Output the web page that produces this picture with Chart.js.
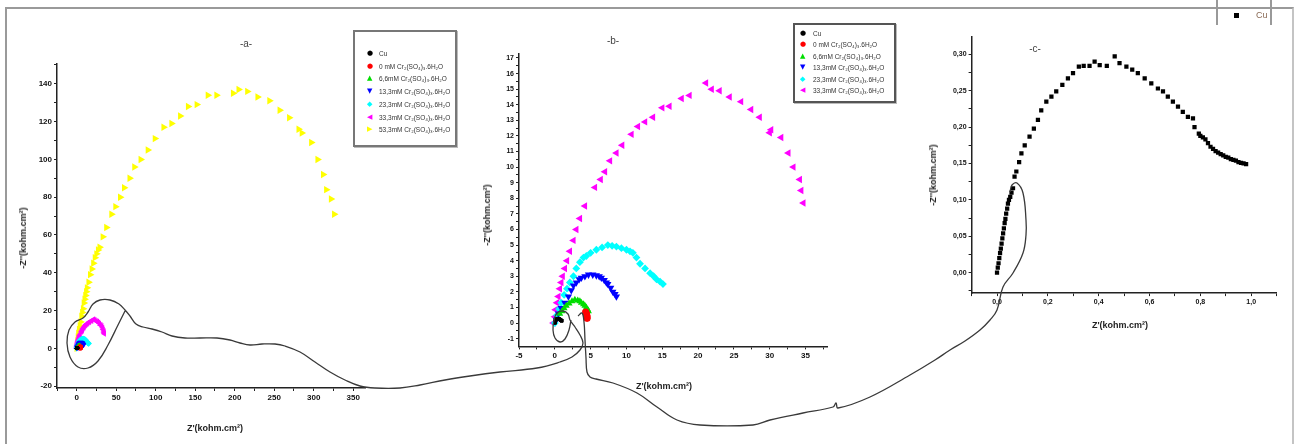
<!DOCTYPE html>
<html>
<head>
<meta charset="utf-8">
<script src="https://cdn.jsdelivr.net/npm/chart.js@4.4.1/dist/chart.umd.min.js"></script>
<style>
  body { margin: 0; width: 1298px; height: 444px; background: #fff; position: relative; overflow: hidden;
         font-family: "Liberation Sans", Arial, sans-serif; }
  canvas { position: absolute; }
  #frame { position: absolute; left: 5px; top: 7px; width: 1285px; height: 450px;
           border-top: 2px solid #9a9a9a; border-left: 2px solid #9a9a9a; border-right: 2px solid #c4c4c4; }
  .txt { position: absolute; transform: translate(-50%, -50%); white-space: nowrap; color: #222; }
  .ttl { font-size: 10px; color: #444; }
  .lab { font-size: 9px; font-weight: bold; }
  .rot { transform: translate(-50%, -50%) rotate(-90deg); }
  .legend { position: absolute; background: #fff; border: 2px solid #777; box-shadow: 1px 1px 0 #bbb; z-index: 3; }
  .legend div { position: relative; font-size: 6.5px; color: #333; white-space: nowrap; }
  .legend span.m { position: absolute; font-family: "DejaVu Sans", sans-serif; font-size: 7px; }
  #overlay { z-index: 5; pointer-events: none; }
</style>
</head>
<body>
<div id="frame"></div>

<canvas id="ca" width="360" height="400" style="left:10px;top:40px"></canvas>
<canvas id="cb" width="370" height="380" style="left:470px;top:30px"></canvas>
<canvas id="cc" width="370" height="320" style="left:920px;top:20px"></canvas>
<canvas id="overlay" width="1298" height="444" style="left:0;top:0"></canvas>

<div class="txt ttl" style="left:246px;top:43px">-a-</div>
<div class="txt ttl" style="left:613px;top:40px">-b-</div>
<div class="txt ttl" style="left:1035px;top:48px">-c-</div>

<div class="txt lab" style="left:215px;top:428px">Z'(kohm.cm²)</div>
<div class="txt lab rot" style="left:23px;top:238px">-Z''(kohm.cm²)</div>
<div class="txt lab" style="left:664px;top:386px">Z'(kohm.cm²)</div>
<div class="txt lab rot" style="left:487px;top:215px">-Z''(kohm.cm²)</div>
<div class="txt lab" style="left:1120px;top:325px">Z'(kohm.cm²)</div>
<div class="txt lab rot" style="left:933px;top:175px">-Z''(kohm.cm²)</div>

<div class="legend" id="legA" style="left:353px;top:30px;width:100px;height:113px"></div>
<div class="legend" id="legB" style="left:793px;top:23px;width:99px;height:76px;border-color:#555"></div>
<div style="position:absolute;left:1216px;top:0;width:52px;height:25px;border-left:2px solid #999;border-right:2px solid #999;z-index:3">
  <span style="position:absolute;left:16px;top:13px;width:5px;height:5px;background:#000"></span>
  <span style="position:absolute;left:38px;top:10px;font-size:9px;color:#8a6a55">Cu</span>
</div>

<script>
// series names and styles (legend order)
const seriesNames = ["Cu", "0 mM Cr\u2082(SO\u2084)\u2083.6H\u2082O", "6,6mM Cr\u2082(SO\u2084)\u2083.6H\u2082O",
  "13,3mM Cr\u2082(SO\u2084)\u2083.6H\u2082O", "23,3mM Cr\u2082(SO\u2084)\u2083.6H\u2082O",
  "33,3mM Cr\u2082(SO\u2084)\u2083.6H\u2082O", "53,3mM Cr\u2082(SO\u2084)\u2083.6H\u2082O"];
const seriesColors = ["#000000", "#ff0000", "#00dd00", "#0000ff", "#00ffff", "#ff00ff", "#ffff00"];
const seriesGlyphs = ["\u25CF", "\u25CF", "\u25B2", "\u25BC", "\u25C6", "\u25C0", "\u25B6"];
const seriesShapes = ["circle", "circle", "triangle", "triangle", "rectRot", "triangle", "triangle"];
const seriesRotation = [0, 0, 0, 180, 0, -90, 90];

// Cu (kohm.cm2)
const cuX = [0, 0.003, 0.006, 0.009, 0.012, 0.015, 0.018, 0.021, 0.024, 0.027, 0.030, 0.033, 0.036, 0.040, 0.043, 0.047, 0.052, 0.057, 0.063,
  0.069, 0.076, 0.087, 0.096, 0.109, 0.128, 0.145, 0.161, 0.174, 0.194, 0.214, 0.233, 0.257, 0.279, 0.299, 0.322, 0.341, 0.364, 0.384,
  0.404, 0.432, 0.463, 0.482, 0.509, 0.532, 0.554, 0.581, 0.607, 0.633, 0.653, 0.672, 0.692, 0.712, 0.731, 0.751, 0.771, 0.777, 0.794,
  0.80, 0.81, 0.82, 0.83, 0.84, 0.85, 0.86, 0.87, 0.88, 0.89, 0.90, 0.91, 0.92, 0.93, 0.94, 0.95, 0.96, 0.97, 0.98];
const cuY = [0, 0.007, 0.013, 0.020, 0.027, 0.033, 0.040, 0.047, 0.054, 0.061, 0.068, 0.074, 0.081, 0.088, 0.095, 0.100, 0.104, 0.110, 0.116,
  0.132, 0.139, 0.152, 0.164, 0.175, 0.187, 0.198, 0.210, 0.223, 0.235, 0.242, 0.249, 0.258, 0.267, 0.274, 0.283, 0.284, 0.284, 0.290,
  0.285, 0.284, 0.297, 0.288, 0.283, 0.279, 0.274, 0.267, 0.260, 0.253, 0.249, 0.242, 0.235, 0.228, 0.221, 0.214, 0.212, 0.200, 0.191,
  0.188, 0.186, 0.183, 0.178, 0.173, 0.170, 0.167, 0.165, 0.163, 0.161, 0.159, 0.158, 0.156, 0.155, 0.154, 0.152, 0.151, 0.150, 0.149];

// 0 mM
const redX = [4.3, 4.4, 4.45, 4.5, 4.5];
const redY = [0.7, 0.6, 0.5, 0.4, 0.3];
// 6,6 mM
const greenX = [0.7, 1.0, 1.3, 1.6, 2.0, 2.4, 2.8, 3.2, 3.5, 3.7, 4.0, 4.2, 4.4, 4.6, 4.7];
const greenY = [0.6, 0.75, 0.95, 1.1, 1.25, 1.4, 1.5, 1.45, 1.4, 1.3, 1.2, 1.1, 1.0, 0.85, 0.75];
// 13,3 mM
const blueX = [0.2, 0.5, 0.9, 1.4, 1.9, 2.3, 2.6, 3.0, 3.4, 3.7, 4.2, 4.7, 5.3, 5.8, 6.2, 6.5, 6.9, 7.2, 7.4, 7.8, 8.1, 8.4, 8.6];
const blueY = [0.2, 0.6, 0.95, 1.3, 1.7, 2.1, 2.4, 2.6, 2.8, 2.9, 3.0, 3.1, 3.1, 3.05, 3.0, 2.9, 2.75, 2.6, 2.5, 2.25, 2.0, 1.85, 1.7];
// 23,3 mM
const cyanX = [0, 0.3, 0.6, 0.9, 1.3, 1.7, 2.1, 2.6, 3.0, 3.5, 4.0, 4.4, 5.0, 5.8, 6.6, 7.4, 8.0, 8.6, 9.3, 10.0, 10.5, 10.9, 11.4, 11.9,
  12.6, 13.3, 13.8, 14.2, 14.7, 15.1];
const cyanY = [0, 0.5, 0.9, 1.3, 1.8, 2.2, 2.6, 3.0, 3.5, 3.9, 4.2, 4.3, 4.5, 4.7, 4.85, 5.0, 4.95, 4.9, 4.8, 4.7, 4.6, 4.5, 4.2, 3.8,
  3.5, 3.2, 3.0, 2.8, 2.65, 2.5];
// 33,3 mM
const magentaX = [-0.2, 0, 0.1, 0.3, 0.5, 0.7, 0.9, 1.1, 1.4, 1.7, 2.1, 2.6, 3.0, 3.5, 4.2, 5.6, 6.4, 7.0, 7.7, 8.6, 9.4, 10.7, 11.6,
  12.6, 13.7, 15.0, 16.0, 17.7, 18.8, 21.1, 21.9, 23.0, 24.4, 26.0, 27.4, 28.6, 30.0, 30.2, 31.6, 32.6, 33.3, 34.2, 34.4, 34.7];
const magentaY = [0, 0.4, 0.85, 1.3, 1.7, 2.2, 2.6, 3.0, 3.5, 4.0, 4.6, 5.3, 6.0, 6.7, 7.5, 8.7, 9.2, 9.7, 10.4, 10.9, 11.4, 12.1, 12.6,
  12.9, 13.2, 13.8, 13.9, 14.4, 14.6, 15.4, 15.0, 14.9, 14.5, 14.2, 13.7, 13.2, 12.2, 12.4, 11.9, 10.9, 10.0, 9.2, 8.5, 7.7];
// 53,3 mM
const yellowX = [0, 0.5, 1, 1.5, 2, 3, 4, 5, 6, 7, 8, 9, 10, 11, 12, 13, 15, 17, 19, 21, 23, 25, 27, 29, 33, 37.5, 44, 49, 55, 60, 67,
  73, 81, 90, 99, 110, 120, 131, 141, 152, 166, 177, 198, 205, 216, 229, 244, 257, 269, 281, 285, 297, 305, 312, 316, 322, 326];
const yellowY = [0, 2, 4, 6, 8, 10, 12, 14, 17, 19, 21, 24, 26, 28, 30, 32, 35, 39, 42, 45, 48, 50, 52, 53.5, 59, 64, 71, 75, 80, 85, 90,
  96, 100, 105, 111, 117, 119, 123, 128, 129, 134, 134, 135, 137, 136, 133, 131, 126, 122, 116, 114, 109, 100, 92, 84, 79, 71];

const seriesX = [cuX, redX, greenX, blueX, cyanX, magentaX, yellowX];
const seriesY = [cuY, redY, greenY, blueY, cyanY, magentaY, yellowY];

// tick labels
const aXMajor = [0, 50, 100, 150, 200, 250, 300, 350];
const aXMinor = [-25, 25, 75, 125, 175, 225, 275, 325];
const aYMajor = [-20, 0, 20, 40, 60, 80, 100, 120, 140];
const aYMinor = [-10, 10, 30, 50, 70, 90, 110, 130, 150];
const bXMajor = [-5, 0, 5, 10, 15, 20, 25, 30, 35];
const bXMinor = [-2.5, 2.5, 7.5, 12.5, 17.5, 22.5, 27.5, 32.5, 37.5];
const bYMajor = [-1, 0, 1, 2, 3, 4, 5, 6, 7, 8, 9, 10, 11, 12, 13, 14, 15, 16, 17];
const bYMinor = [-0.5, 0.5, 1.5, 2.5, 3.5, 4.5, 5.5, 6.5, 7.5, 8.5, 9.5, 10.5, 11.5, 12.5, 13.5, 14.5, 15.5, 16.5];
const cXMajor = [0, 0.2, 0.4, 0.6, 0.8, 1.0];
const cXMinor = [-0.1, 0.1, 0.3, 0.5, 0.7, 0.9, 1.1];
const cYMajor = [0, 0.05, 0.10, 0.15, 0.20, 0.25, 0.30];
const cYMinor = [-0.025, 0.025, 0.075, 0.125, 0.175, 0.225, 0.275];

// hand drawn connector strokes (page pixels)
const connector1X = [125, 118, 108, 98, 88, 78, 70, 67, 69, 75, 83, 88, 93, 100, 110, 119, 125, 130, 136, 143, 152, 162, 172, 185, 200, 217,
  230, 240, 250, 262, 275, 285, 300, 315, 330, 345, 360, 375, 400, 420, 445, 470, 500, 537, 560, 572, 580, 583, 580, 575, 570, 568, 563,
  557, 554, 553, 555, 560, 565, 569, 571];
const connector1Y = [311, 325, 345, 361, 368, 367, 357, 343, 330, 322, 318, 312, 304, 300, 300, 304, 310, 316, 324, 327, 329, 332, 336, 338, 338, 338,
  340, 343, 345, 344, 344, 346, 352, 362, 372, 380, 386, 388, 388, 385, 380, 376, 372, 368, 362, 357, 350, 343, 335, 327, 320, 314, 311,
  313, 320, 330, 338, 342, 339, 330, 320];
const connector2X = [578, 582, 584, 585, 586, 587, 590, 596, 613, 637, 657, 677, 700, 753, 770, 803, 833, 836, 838, 870, 910, 935, 950, 965,
  980, 990, 997, 1003, 1013, 1023, 1026, 1026, 1023, 1017, 1012, 1010];
const connector2Y = [316, 313, 322, 340, 358, 372, 377, 379, 383, 393, 407, 420, 425, 425, 420, 413, 407, 403, 408, 397, 375, 360, 350, 341,
  330, 320, 310, 287, 273, 253, 235, 220, 193, 183, 185, 192];

const pts = (xs, ys) => xs.map((x, i) => ({ x: x, y: ys[i] }));

function series(i, radius, shape) {
  return {
    label: seriesNames[i],
    data: pts(seriesX[i], seriesY[i]),
    pointStyle: shape || seriesShapes[i],
    rotation: seriesRotation[i],
    pointRadius: radius,
    backgroundColor: seriesColors[i],
    borderColor: seriesColors[i],
    borderWidth: 0
  };
}

function axis(pos, min, max, major, minor, fmt, size, fontSize) {
  const all = major.concat(minor).sort((a, b) => a - b);
  return {
    type: "linear", position: pos, min: min, max: max,
    afterBuildTicks: s => { s.ticks = all.map(v => ({ value: v })); },
    afterFit: s => { if (pos === "left") s.width = size; else s.height = size; },
    grid: { drawOnChartArea: false, drawTicks: true, tickLength: 3, color: "#222", lineWidth: 1 },
    border: { display: true, color: "#222", width: 1.5 },
    ticks: {
      autoSkip: false, maxRotation: 0, padding: 2, color: "#111",
      font: { family: "Liberation Sans", size: fontSize, weight: "bold" },
      callback: v => major.includes(v) ? fmt(v) : ""
    }
  };
}

function plot(id, pad, xAx, yAx, sets) {
  new Chart(document.getElementById(id), {
    type: "scatter",
    data: { datasets: sets },
    options: {
      responsive: false, animation: false, events: [],
      layout: { padding: pad },
      plugins: { legend: { display: false }, tooltip: { enabled: false } },
      scales: { x: xAx, y: yAx }
    }
  });
}

const num = v => String(v);
const comma1 = v => v.toFixed(1).replace(".", ",");
const comma2 = v => v.toFixed(2).replace(".", ",");

// -a-
plot("ca", { left: 0, right: 5, top: 24, bottom: 22 },
  axis("bottom", -25, 365, aXMajor, aXMinor, num, 30, 8),
  axis("left", -21, 150.5, aYMajor, aYMinor, num, 47, 8),
  [series(0, 1.8), series(1, 2.8), series(2, 3), series(3, 3.2), series(4, 3.2), series(5, 3.4), series(6, 4.3)]);

// -b-
plot("cb", { left: 0, right: 13, top: 23.3, bottom: 33.6 },
  axis("bottom", -5, 38, bXMajor, bXMinor, num, 30, 8),
  axis("left", -1.5, 17.3, bYMajor, bYMinor, num, 49, 7),
  [series(0, 2.2, "rect"), series(1, 3.6), series(2, 4), series(3, 4.2), series(4, 3.9), series(5, 4.3)]);

// -c-
plot("cc", { left: 0, right: 13.4, top: 16.8, bottom: 16.9 },
  axis("bottom", -0.1, 1.1, cXMajor, cXMinor, comma1, 30, 7),
  axis("left", -0.028, 0.324, cYMajor, cYMinor, comma2, 51.6, 7),
  [series(0, 3, "rect")]);

// connector strokes over the whole figure
new Chart(document.getElementById("overlay"), {
  type: "scatter",
  data: {
    datasets: [connector1X, connector2X].map((xs, k) => ({
      data: pts(xs, k ? connector2Y : connector1Y),
      showLine: true, tension: 0.4, pointRadius: 0,
      borderColor: "#3a3a3a", borderWidth: 1.3
    }))
  },
  options: {
    responsive: false, animation: false, events: [],
    layout: { padding: 0 },
    plugins: { legend: { display: false }, tooltip: { enabled: false } },
    scales: {
      x: { type: "linear", min: 0, max: 1298, display: false },
      y: { type: "linear", min: 0, max: 444, reverse: true, display: false }
    }
  }
});

// legends
function legend(id, count, top, step, markX, textX) {
  const box = document.getElementById(id);
  for (let i = 0; i < count; i++) {
    const row = document.createElement("div");
    row.style.position = "absolute";
    row.style.top = (top + i * step) + "px";
    row.style.left = "0";
    row.innerHTML = `<span class="m" style="left:${markX}px;top:-1px;color:${seriesColors[i]}">${seriesGlyphs[i]}</span>` +
      `<span style="position:absolute;left:${textX}px;top:0">${seriesNames[i]}</span>`;
    box.appendChild(row);
  }
}
legend("legA", 7, 18, 12.7, 12, 24);
legend("legB", 6, 5, 11.4, 5, 18);
</script>
</body>
</html>
